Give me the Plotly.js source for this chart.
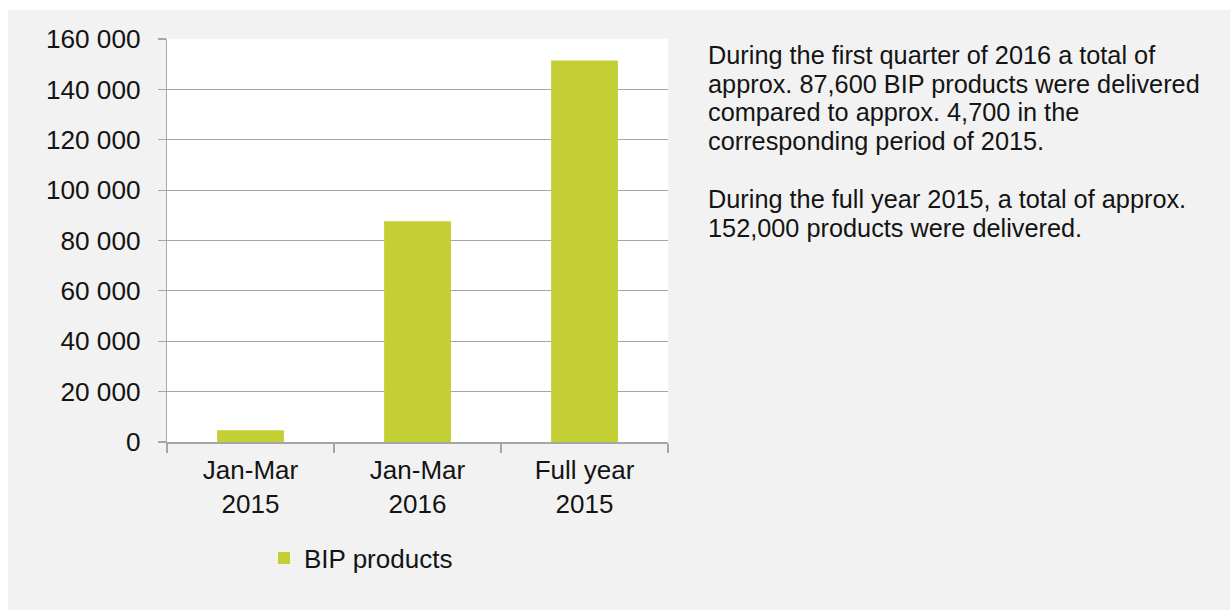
<!DOCTYPE html>
<html>
<head>
<meta charset="utf-8">
<script src="https://cdn.plot.ly/plotly-3.0.1.min.js"></script>
<style>
  html, body { margin: 0; padding: 0; background: #ffffff; }
  #chart { position: absolute; left: 8px; top: 10px; width: 1222px; height: 600px; }
</style>
</head>
<body>
<div id="chart"></div>
<script>
// ---- data ----
const categories = ["Jan-Mar<br>2015", "Jan-Mar<br>2016", "Full year<br>2015"];
const seriesName = "BIP products";
const bipProducts = [4700, 87600, 151500];
const yTickValues = [0, 20000, 40000, 60000, 80000, 100000, 120000, 140000, 160000];
const noteLines = [
  "During the first quarter of 2016 a total of",
  "approx. 87,600 BIP products were delivered",
  "compared to approx. 4,700 in the",
  "corresponding period of 2015.",
  "",
  "During the full year 2015, a total of approx.",
  "152,000 products were delivered."
];

// ---- styles ----
const FONT = "Liberation Sans, Arial, Helvetica, sans-serif";
const TEXT = "#141414";
const GRID = "#a6a6a6";
const BAR = "#c3cf34";
const FS = 25.5;

const L = 159, T = 29, R = 562, B = 168;
const W = 1222, H = 600;
const plotW = W - L - R, plotH = H - T - B;
function px2x(px) { return (px - 8 - L) / plotW; }
function px2y(py) { return (T + 10 + plotH - py) / plotH; }

const lineCenters = [55, 84, 112, 141, 170, 199, 228];
const annotations = [];
noteLines.forEach((t, i) => {
  if (!t) return;
  annotations.push({
    xref: "paper", yref: "paper",
    x: px2x(706), y: px2y(lineCenters[i]),
    xanchor: "left", yanchor: "middle",
    text: t, showarrow: false,
    font: { family: FONT, size: 25.3, color: TEXT }
  });
});

const trace = {
  type: "bar",
  x: categories,
  y: bipProducts,
  name: seriesName,
  marker: { color: BAR, line: { width: 0 } },
  showlegend: true,
  hoverinfo: "x+y"
};

const layout = {
  width: W, height: H,
  margin: { l: L, r: R, t: T, b: B, pad: 0 },
  paper_bgcolor: "#f2f2f2",
  plot_bgcolor: "#ffffff",
  separators: ". ",
  bargap: 0.6,
  font: { family: FONT, size: FS, color: TEXT },
  xaxis: {
    type: "category",
    showgrid: false,
    showline: true, linecolor: GRID, linewidth: 1.5,
    ticks: "outside", tickson: "boundaries", ticklen: 9, tickcolor: GRID, tickwidth: 1.2,
    tickfont: { family: FONT, size: 26, color: TEXT },
    ticklabelstandoff: 4,
    zeroline: false
  },
  yaxis: {
    range: [0, 160000],
    tickvals: yTickValues,
    tickformat: ",d",
    showgrid: true, gridcolor: GRID, gridwidth: 1.2,
    showline: true, linecolor: GRID, linewidth: 1.2,
    ticks: "outside", ticklen: 8, tickcolor: GRID, tickwidth: 1.2,
    tickfont: { family: FONT, size: 26.2, color: TEXT },
    ticklabelstandoff: 12,
    zeroline: false
  },
  legend: {
    orientation: "h",
    x: px2x(264), xanchor: "left",
    y: px2y(558), yanchor: "middle",
    bgcolor: "rgba(0,0,0,0)",
    font: { family: FONT, size: 26, color: TEXT }
  },
  annotations: annotations
};

Plotly.newPlot("chart", [trace], layout, { displayModeBar: false, staticPlot: true });
</script>
</body>
</html>
